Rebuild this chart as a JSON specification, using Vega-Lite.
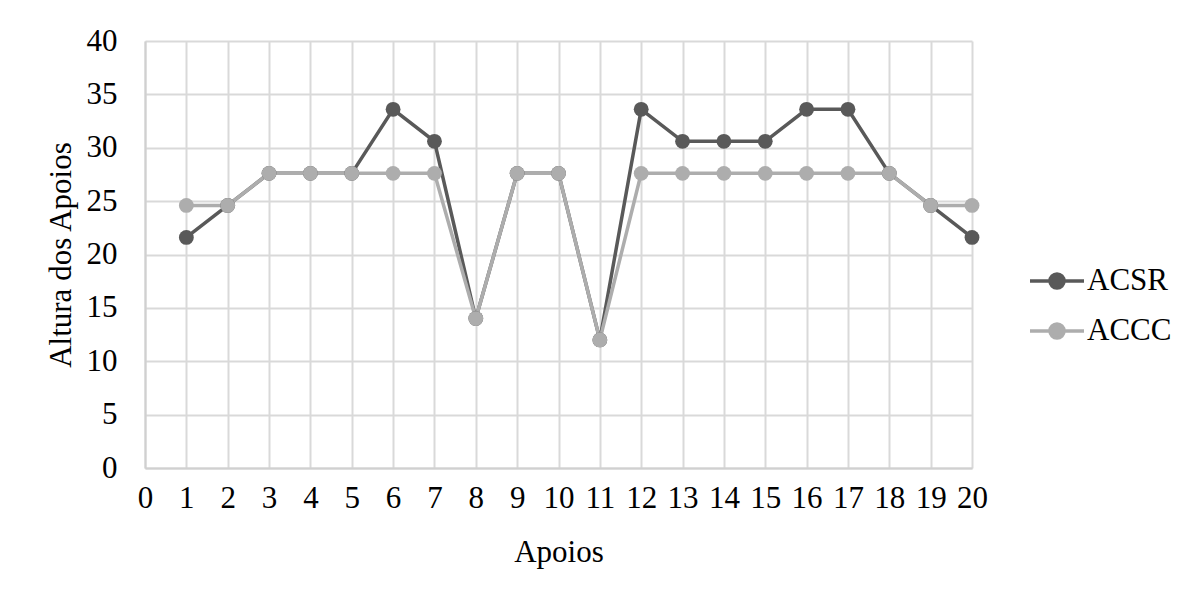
{
  "$schema": "https://vega.github.io/schema/vega-lite/v6.json",
  "width": 827,
  "height": 427,
  "autosize": {"type": "none"},
  "padding": {"left": 145, "top": 41, "right": 222, "bottom": 123},
  "background": "white",
  "data": {
    "values": [
      {"apoio": 1, "serie": "ACSR", "altura": 21.6},
      {"apoio": 2, "serie": "ACSR", "altura": 24.6},
      {"apoio": 3, "serie": "ACSR", "altura": 27.6},
      {"apoio": 4, "serie": "ACSR", "altura": 27.6},
      {"apoio": 5, "serie": "ACSR", "altura": 27.6},
      {"apoio": 6, "serie": "ACSR", "altura": 33.6},
      {"apoio": 7, "serie": "ACSR", "altura": 30.6},
      {"apoio": 8, "serie": "ACSR", "altura": 14},
      {"apoio": 9, "serie": "ACSR", "altura": 27.6},
      {"apoio": 10, "serie": "ACSR", "altura": 27.6},
      {"apoio": 11, "serie": "ACSR", "altura": 12},
      {"apoio": 12, "serie": "ACSR", "altura": 33.6},
      {"apoio": 13, "serie": "ACSR", "altura": 30.6},
      {"apoio": 14, "serie": "ACSR", "altura": 30.6},
      {"apoio": 15, "serie": "ACSR", "altura": 30.6},
      {"apoio": 16, "serie": "ACSR", "altura": 33.6},
      {"apoio": 17, "serie": "ACSR", "altura": 33.6},
      {"apoio": 18, "serie": "ACSR", "altura": 27.6},
      {"apoio": 19, "serie": "ACSR", "altura": 24.6},
      {"apoio": 20, "serie": "ACSR", "altura": 21.6},
      {"apoio": 1, "serie": "ACCC", "altura": 24.6},
      {"apoio": 2, "serie": "ACCC", "altura": 24.6},
      {"apoio": 3, "serie": "ACCC", "altura": 27.6},
      {"apoio": 4, "serie": "ACCC", "altura": 27.6},
      {"apoio": 5, "serie": "ACCC", "altura": 27.6},
      {"apoio": 6, "serie": "ACCC", "altura": 27.6},
      {"apoio": 7, "serie": "ACCC", "altura": 27.6},
      {"apoio": 8, "serie": "ACCC", "altura": 14},
      {"apoio": 9, "serie": "ACCC", "altura": 27.6},
      {"apoio": 10, "serie": "ACCC", "altura": 27.6},
      {"apoio": 11, "serie": "ACCC", "altura": 12},
      {"apoio": 12, "serie": "ACCC", "altura": 27.6},
      {"apoio": 13, "serie": "ACCC", "altura": 27.6},
      {"apoio": 14, "serie": "ACCC", "altura": 27.6},
      {"apoio": 15, "serie": "ACCC", "altura": 27.6},
      {"apoio": 16, "serie": "ACCC", "altura": 27.6},
      {"apoio": 17, "serie": "ACCC", "altura": 27.6},
      {"apoio": 18, "serie": "ACCC", "altura": 27.6},
      {"apoio": 19, "serie": "ACCC", "altura": 24.6},
      {"apoio": 20, "serie": "ACCC", "altura": 24.6}
    ]
  },
  "encoding": {
    "x": {
      "field": "apoio", "type": "quantitative",
      "scale": {"domain": [0, 20], "nice": false, "zero": false},
      "axis": {"title": "Apoios", "values": [0,1,2,3,4,5,6,7,8,9,10,11,12,13,14,15,16,17,18,19,20], "labelPadding": 15, "titlePadding": 24}
    },
    "y": {
      "field": "altura", "type": "quantitative",
      "scale": {"domain": [0, 40], "nice": false},
      "axis": {"title": "Altura dos Apoios", "values": [0,5,10,15,20,25,30,35,40], "labelPadding": 28, "titlePadding": 9}
    },
    "color": {
      "field": "serie", "type": "nominal",
      "scale": {"domain": ["ACSR", "ACCC"], "range": ["#595959", "#adadad"]},
      "legend": {
        "title": null,
        "orient": "none",
        "legendX": 883,
        "legendY": 211,
        "padding": 0,
        "symbolType": "M-1,0H1M0.26,0A0.26,0.26 0 1,1 -0.26,0A0.26,0.26 0 1,1 0.26,0Z",
        "symbolSize": 2916,
        "symbolStrokeWidth": 3.5,
        "labelOffset": 1,
        "rowPadding": 6,
        "encode": {
          "symbols": {"update": {"fill": {"scale": "color", "field": "value"}, "stroke": {"scale": "color", "field": "value"}, "opacity": {"value": 1}}}
        }
      }
    }
  },
  "layer": [
    {"mark": {"type": "line", "strokeWidth": 3.5}},
    {"mark": {"type": "point", "filled": true, "size": 220, "opacity": 1}}
  ],
  "config": {
    "view": {"stroke": null},
    "font": "Liberation Serif",
    "axis": {
      "labelFont": "Liberation Serif",
      "titleFont": "Liberation Serif",
      "labelFontSize": 31,
      "titleFontSize": 31,
      "titleFontWeight": "normal",
      "labelColor": "#000000",
      "titleColor": "#000000",
      "ticks": false,
      "gridColor": "#d9d9d9",
      "gridWidth": 2,
      "gridOpacity": 1,
      "domainColor": "#d0d0d0",
      "domainWidth": 2,
      "labelFlush": false,
      "labelOverlap": false
    },
    "legend": {
      "labelFont": "Liberation Serif",
      "labelFontSize": 31,
      "labelColor": "#000000"
    }
  }
}
